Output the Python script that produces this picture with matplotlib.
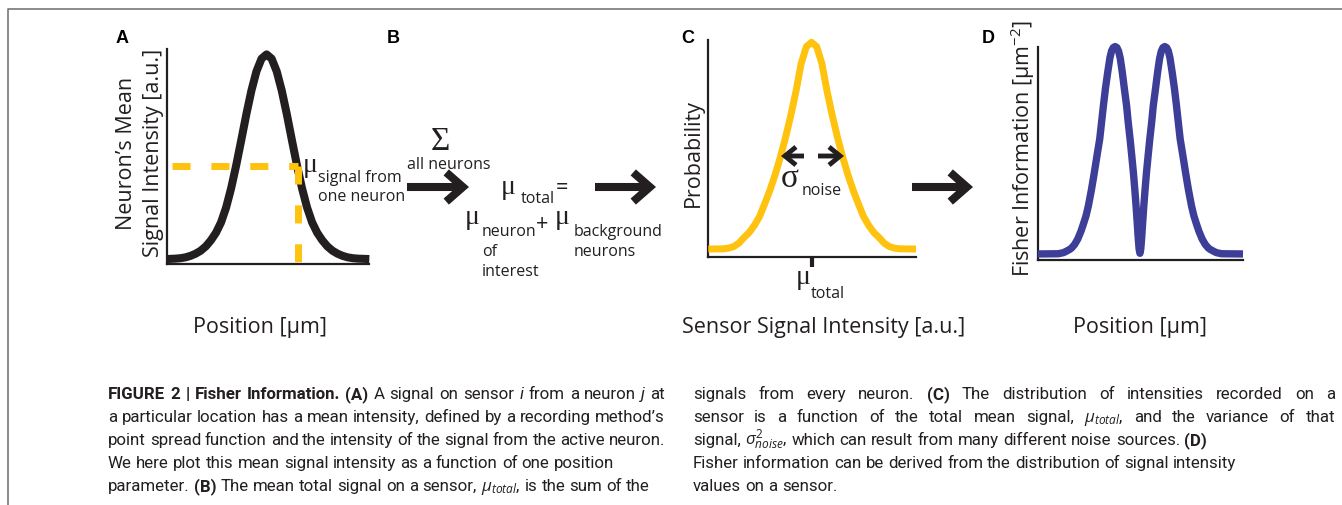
import matplotlib
matplotlib.use("Agg")
import matplotlib.pyplot as plt
from matplotlib import font_manager
from matplotlib.patches import FancyArrowPatch

W, H = 1342, 506

# --- values (each panel uses 0..10 on both axes) ---
signal_x = [0, 0.43, 0.68, 0.93, 1.18, 1.43, 1.68, 1.93, 2.18, 2.43, 2.68, 2.93, 3.18,
            3.43, 3.68, 3.93, 4.18, 4.43, 4.68, 4.93, 5.18, 5.43, 5.68, 5.93, 6.18,
            6.43, 6.68, 6.93, 7.18, 7.43, 7.68, 7.93, 8.18, 8.43, 8.68, 8.93, 9.18,
            9.43, 10]
signal_y = [0.23, 0.25, 0.27, 0.31, 0.38, 0.48, 0.62, 0.82, 1.10, 1.45, 1.93, 2.62, 3.52,
            4.59, 5.76, 6.96, 8.06, 8.96, 9.55, 9.75, 9.55, 8.96, 8.06, 6.96, 5.76,
            4.59, 3.52, 2.62, 1.93, 1.45, 1.10, 0.82, 0.62, 0.48, 0.38, 0.31, 0.27,
            0.25, 0.23]
mu_signal_pos = 6.5
mu_signal_level = 4.57

prob_x = [0, 0.72, 0.97, 1.22, 1.47, 1.72, 1.97, 2.22, 2.47, 2.72, 2.97, 3.22, 3.47,
          3.72, 3.97, 4.22, 4.47, 4.72, 4.97, 5.22, 5.47, 5.72, 5.97, 6.22, 6.47,
          6.72, 6.97, 7.22, 7.47, 7.72, 7.97, 8.22, 8.47, 8.72, 8.97, 9.22, 10]
prob_y = [0.38, 0.39, 0.42, 0.49, 0.65, 0.91, 1.14, 1.47, 1.88, 2.47, 3.09, 3.80, 4.61,
          5.51, 6.51, 7.62, 8.90, 9.68, 9.88, 9.68, 8.90, 7.62, 6.51, 5.51, 4.61,
          3.80, 3.09, 2.47, 1.88, 1.47, 1.14, 0.91, 0.65, 0.49, 0.42, 0.39, 0.38]
mu_total_pos = 4.97

fisher_x = [0, 1.0, 1.25, 1.4, 1.55, 1.65, 1.8, 1.95, 2.1, 2.2, 2.35, 2.47, 2.62, 2.76,
            2.89, 3.02, 3.11, 3.20, 3.30, 3.41, 3.52, 3.60, 3.68, 3.77, 3.86, 3.94,
            4.02, 4.07, 4.12, 4.22, 4.33, 4.41, 4.50, 4.58, 4.66, 4.73, 4.79, 4.85,
            4.90, 4.94, 4.98, 5.02, 5.06, 5.11, 5.17, 5.23, 5.30, 5.38, 5.46, 5.55,
            5.63, 5.74, 5.84, 5.89, 5.94, 6.02, 6.10, 6.19, 6.28, 6.36, 6.44, 6.55,
            6.66, 6.76, 6.85, 6.94, 7.07, 7.20, 7.34, 7.49, 7.61, 7.76, 7.86, 8.01,
            8.16, 8.31, 8.41, 8.56, 8.71, 8.96, 10]
fisher_y = [0.27, 0.28, 0.33, 0.40, 0.48, 0.55, 0.72, 0.97, 1.32, 1.60, 2.05, 2.54, 3.30,
            4.11, 4.90, 5.67, 6.45, 7.24, 8.05, 8.81, 9.50, 9.82, 9.97, 10.02, 9.97,
            9.80, 9.47, 9.15, 8.81, 8.05, 7.24, 6.45, 5.67, 4.90, 4.11, 3.30, 2.54,
            1.70, 0.97, 0.50, 0.30, 0.50, 0.97, 1.70, 2.54, 3.30, 4.11, 4.90, 5.67,
            6.45, 7.24, 8.05, 8.81, 9.15, 9.47, 9.80, 9.97, 10.02, 9.97, 9.82, 9.50,
            8.81, 8.05, 7.24, 6.45, 5.67, 4.90, 4.11, 3.30, 2.54, 2.05, 1.60, 1.32,
            0.97, 0.72, 0.55, 0.48, 0.40, 0.33, 0.28, 0.27]

caption_left = [
    ("**FIGURE **2 **| **Fisher **Information. **(A) A signal on sensor ~i from a neuron ~j at", True),
    ("a particular location has a mean intensity, defined by a recording method’s", True),
    ("point spread function and the intensity of the signal from the active neuron.", True),
    ("We here plot this mean signal intensity as a function of one position", False),
    ("parameter. **(B) The mean total signal on a sensor, $\\mu_{total}$, is the sum of the", False),
]
caption_right = [
    ("signals from every neuron. **(C) The distribution of intensities recorded on a", True),
    ("sensor is a function of the total mean signal, $\\mu_{total}$, and the variance of that", True),
    ("signal, $\\sigma^2_{noise}$, which can result from many different noise sources. **(D)", False),
    ("Fisher information can be derived from the distribution of signal intensity", False),
    ("values on a sensor.", False),
]

INK = "#231f20"
GOLD = "#ffc20e"
BLUE = "#3c3e97"

FONT = "Open Sans"
GREEK = "Liberation Serif"
names = {f.name for f in font_manager.fontManager.ttflist}
if "Liberation Sans Narrow" in names:
    CAP_FONT, CAP_SIZE = "Liberation Sans Narrow", 12.5
else:
    CAP_FONT, CAP_SIZE = "Roboto", 12.2

plt.rcParams["font.family"] = FONT
plt.rcParams["mathtext.fontset"] = "custom"
plt.rcParams["mathtext.rm"] = FONT
plt.rcParams["mathtext.it"] = FONT + ":italic"
plt.rcParams["mathtext.bf"] = FONT + ":bold"
plt.rcParams["lines.scale_dashes"] = False

fig = plt.figure(figsize=(W / 100, H / 100), dpi=100)


def px_axes(left, right, bottom, top):
    ax = fig.add_axes([left / W, 1 - bottom / H, (right - left) / W, (bottom - top) / H])
    ax.set_xlim(0, 10)
    ax.set_ylim(0, 10)
    ax.patch.set_visible(False)
    for s in ("top", "right"):
        ax.spines[s].set_visible(False)
    for s in ("left", "bottom"):
        ax.spines[s].set_linewidth(1.6)
        ax.spines[s].set_color(INK)
    ax.set_xticks([])
    ax.set_yticks([])
    return ax


ax_a = px_axes(166.7, 369.3, 265, 50)
ax_c = px_axes(708.3, 916, 258.3, 40.7)
ax_d = px_axes(1037.7, 1243, 260.7, 48)

line_kw = dict(solid_joinstyle="round", solid_capstyle="butt", clip_on=False, zorder=3)
ax_a.plot(signal_x, signal_y, color=INK, lw=5.8, **line_kw)
ax_a.plot([0.25, mu_signal_pos], [mu_signal_level, mu_signal_level], color=GOLD, lw=5,
          ls=(0, (13, 15)), dash_capstyle="butt", zorder=4)
ax_a.plot([mu_signal_pos, mu_signal_pos], [mu_signal_level, 0], color=GOLD, lw=5,
          ls=(0, (13, 15)), dash_capstyle="butt", zorder=4)

ax_c.plot(prob_x, prob_y, color=GOLD, lw=5, **line_kw)
ax_c.set_xticks([mu_total_pos])
ax_c.tick_params(axis="x", length=7, width=3, color=INK, labelbottom=False)

ax_d.plot(fisher_x, fisher_y, color=BLUE, lw=5.3, **line_kw)

# overlay in pixel coordinates for labels, arrows and caption
ov = fig.add_axes([0, 0, 1, 1])
ov.set_xlim(0, W)
ov.set_ylim(H, 0)
ov.axis("off")

ov.plot([8, 8, W], [H, 10, 10], color="#777777", lw=1.2, solid_capstyle="butt")

for lab, x in (("A", 122), ("B", 393), ("C", 688), ("D", 988)):
    ov.text(x, 38, lab, ha="center", va="center", fontsize=13, weight="bold",
            family="Liberation Sans", color="black")

big = 15.5
small = 11.5
gsize = 20
txt = dict(color=INK)

# panel A
ov.text(127, 153, "Neuron’s Mean", rotation=90, ha="center", va="center", fontsize=big, **txt)
ov.text(153, 153, "Signal Intensity [a.u.]", rotation=90, ha="center", va="center", fontsize=big, **txt)
ov.text(260, 327, "Position [µm]", ha="center", va="center", fontsize=big, **txt)
ov.text(303, 172, "μ", family=GREEK, fontsize=gsize, va="baseline", **txt)
ov.text(318, 182, "signal from", fontsize=small, va="baseline", **txt)
ov.text(318, 201, "one neuron", fontsize=small, va="baseline", **txt)

# panel B
ov.text(440, 150, "Σ", family=GREEK, fontsize=24, ha="center", va="baseline", **txt)
ov.text(449, 169, "all neurons", fontsize=small, ha="center", va="baseline", **txt)
ov.text(501, 194.5, "μ", family=GREEK, fontsize=gsize, va="baseline", **txt)
ov.text(521, 203, "total", fontsize=small, va="baseline", **txt)
ov.text(556, 194, "=", fontsize=big, va="baseline", **txt)
ov.text(465, 224.5, "μ", family=GREEK, fontsize=gsize, va="baseline", **txt)
ov.text(482, 236, "neuron", fontsize=small, va="baseline", **txt)
ov.text(482, 256, "of", fontsize=small, va="baseline", **txt)
ov.text(482, 276, "interest", fontsize=small, va="baseline", **txt)
ov.text(536, 230, "+", fontsize=big, va="baseline", **txt)
ov.text(555, 224.5, "μ", family=GREEK, fontsize=gsize, va="baseline", **txt)
ov.text(574, 236, "background", fontsize=small, va="baseline", **txt)
ov.text(574, 256, "neurons", fontsize=small, va="baseline", **txt)

# panel C
ov.text(693, 153, "Probability", rotation=90, ha="center", va="center", fontsize=big, **txt)
ov.text(781, 187, "σ", family=GREEK, fontsize=24, va="baseline", **txt)
ov.text(802, 195, "noise", fontsize=small, va="baseline", **txt)
ov.text(796, 284.5, "μ", family=GREEK, fontsize=gsize, va="baseline", **txt)
ov.text(811, 298, "total", fontsize=small, va="baseline", **txt)
ov.text(824, 328, "Sensor Signal Intensity [a.u.]", ha="center", va="center", fontsize=big, **txt)

# panel D
ov.text(1023, 149, "Fisher Information [µm$^{-2}$]", rotation=90, ha="center", va="center",
        fontsize=big, **txt)
ov.text(1140, 327, "Position [µm]", ha="center", va="center", fontsize=big, **txt)


def arrow(x0, x1, y, lw, hl, hw):
    ov.add_patch(FancyArrowPatch((x0, y), (x1, y),
                                 arrowstyle=f"->,head_length={hl},head_width={hw}",
                                 mutation_scale=10, lw=lw, color=INK, shrinkA=0, shrinkB=0,
                                 joinstyle="miter", capstyle="butt"))


arrow(407, 469, 188, 5.8, 1.2, 1.05)
arrow(595, 656, 188, 5.8, 1.2, 1.05)
arrow(912, 973, 188, 5.8, 1.2, 1.05)
arrow(804, 781, 157, 3.5, 0.8, 0.65)
arrow(818, 844, 157, 3.5, 0.8, 0.65)

# caption, laid out word by word
renderer = fig.canvas.get_renderer()


def caption_line(x0, x1, y, line, justify):
    arts = []
    for tok in line.split(" "):
        kw = {}
        if tok.startswith("**"):
            tok, kw = tok[2:], dict(weight="bold")
        elif tok.startswith("~"):
            tok, kw = tok[1:], dict(style="italic")
        arts.append(ov.text(x0, y, tok, family=CAP_FONT, fontsize=CAP_SIZE, va="baseline",
                            color="#231f20", **kw))
    widths = [t.get_window_extent(renderer).width for t in arts]
    space = 0.25 * CAP_SIZE * 100 / 72
    gap = (x1 - x0 - sum(widths)) / (len(arts) - 1) if justify else space
    gap = max(gap, 2.5)
    x = x0
    for t, w in zip(arts, widths):
        t.set_x(x)
        x += w + gap


for i, (line, just) in enumerate(caption_left):
    caption_line(108, 665, 399 + 23 * i, line, just)
for i, (line, just) in enumerate(caption_right):
    caption_line(693, 1335, 399 + 23 * i, line, just)

fig.savefig("out.png", dpi=100)
